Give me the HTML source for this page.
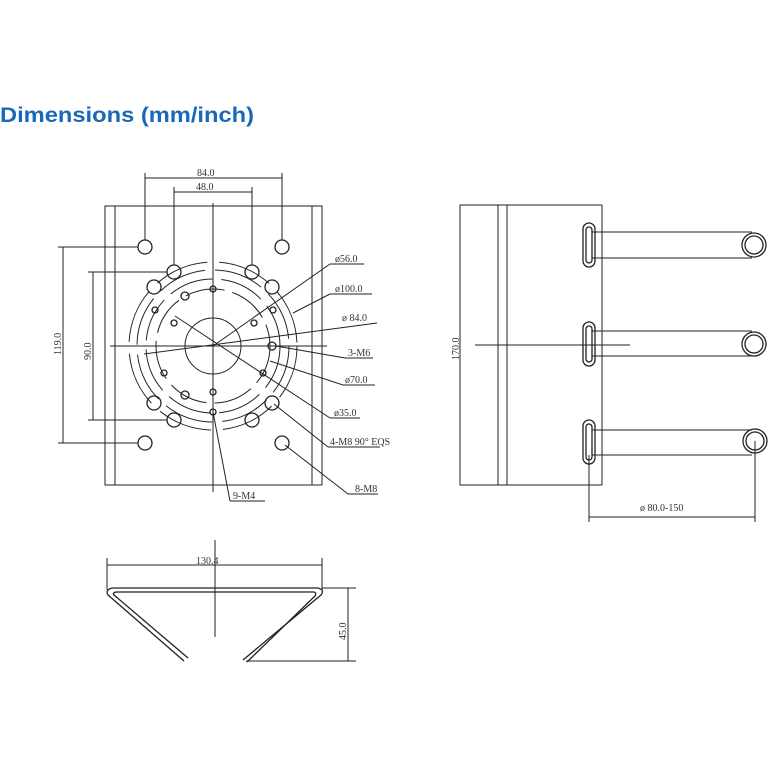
<!DOCTYPE html>
<html><head><style>html,body{margin:0;padding:0;background:#fff}svg{display:block}</style></head>
<body>
<svg width="768" height="768" viewBox="0 0 768 768" xmlns="http://www.w3.org/2000/svg">
<rect width="768" height="768" fill="#fff"/>
<text x="0" y="122" font-family="Liberation Sans, sans-serif" font-weight="bold" font-size="21" fill="#1a68b8" textLength="254" lengthAdjust="spacingAndGlyphs">Dimensions (mm/inch)</text>
<g stroke="#222" stroke-width="1" fill="none">
<!-- front plate -->
<rect x="105" y="206" width="217" height="279"/>
<line x1="115" y1="206" x2="115" y2="485"/><line x1="312" y1="206" x2="312" y2="485"/>
<line x1="213" y1="203" x2="213" y2="492"/><line x1="110" y1="346" x2="327" y2="346"/>
<circle cx="213" cy="346" r="28"/>
<circle cx="213" cy="346" r="57" stroke-dasharray="40 8"/>
<circle cx="213" cy="346" r="67" stroke-dasharray="45 9"/>
<circle cx="213" cy="346" r="76" stroke-dasharray="50 10"/>
<circle cx="213" cy="346" r="84" stroke-dasharray="55 12"/>
<g stroke-width="1.3">
<circle cx="145" cy="247" r="7"/><circle cx="282" cy="247" r="7"/>
<circle cx="174" cy="272" r="7"/><circle cx="252" cy="272" r="7"/>
<circle cx="154" cy="287" r="7"/><circle cx="272" cy="287" r="7"/>
<circle cx="154" cy="403" r="7"/><circle cx="272" cy="403" r="7"/>
<circle cx="174" cy="420" r="7"/><circle cx="252" cy="420" r="7"/>
<circle cx="145" cy="443" r="7"/><circle cx="282" cy="443" r="7"/>
<circle cx="213" cy="289" r="3"/><circle cx="185" cy="296" r="4"/><circle cx="155" cy="310" r="3"/>
<circle cx="174" cy="323" r="3"/><circle cx="254" cy="323" r="3"/><circle cx="273" cy="310" r="3"/>
<circle cx="272" cy="346" r="4"/><circle cx="164" cy="373" r="3"/><circle cx="263" cy="373" r="3"/>
<circle cx="185" cy="395" r="4"/><circle cx="213" cy="392" r="3"/><circle cx="213" cy="412" r="3"/>
</g>
<!-- dims -->
<line x1="145" y1="173" x2="145" y2="240"/><line x1="282" y1="173" x2="282" y2="240"/>
<line x1="145" y1="178" x2="282" y2="178"/>
<line x1="174" y1="187" x2="174" y2="265"/><line x1="252" y1="187" x2="252" y2="265"/>
<line x1="174" y1="192" x2="252" y2="192"/>
<line x1="63" y1="247" x2="63" y2="443"/><line x1="58" y1="247" x2="138" y2="247"/><line x1="58" y1="443" x2="138" y2="443"/>
<line x1="93" y1="272" x2="93" y2="420"/><line x1="88" y1="272" x2="167" y2="272"/><line x1="88" y1="420" x2="167" y2="420"/>
<!-- leaders -->
<line x1="213" y1="346" x2="330" y2="264"/><line x1="330" y1="264" x2="364" y2="264"/>
<line x1="293" y1="313" x2="330" y2="294"/><line x1="330" y1="294" x2="372" y2="294"/>
<line x1="144" y1="354" x2="377" y2="323"/>
<line x1="276" y1="346" x2="345" y2="358"/><line x1="345" y1="358" x2="373" y2="358"/>
<line x1="270" y1="361" x2="343" y2="385"/><line x1="343" y1="385" x2="375" y2="385"/>
<line x1="175" y1="316" x2="330" y2="418"/><line x1="330" y1="418" x2="360" y2="418"/>
<line x1="274" y1="404" x2="328" y2="447"/><line x1="328" y1="447" x2="380" y2="447"/>
<line x1="285" y1="445" x2="348" y2="494"/><line x1="348" y1="494" x2="378" y2="494"/>
<line x1="213" y1="412" x2="230" y2="501"/><line x1="230" y1="501" x2="265" y2="501"/>
<!-- side view -->
<rect x="460" y="205" width="142" height="280"/>
<line x1="498" y1="205" x2="498" y2="485"/><line x1="507" y1="205" x2="507" y2="485"/>
<line x1="475" y1="345" x2="630" y2="345"/>
<g stroke-width="1.3">
<rect x="583" y="223" width="12" height="44" rx="6"/><rect x="586" y="227" width="6" height="36" rx="3"/>
<rect x="583" y="322" width="12" height="44" rx="6"/><rect x="586" y="326" width="6" height="36" rx="3"/>
<rect x="583" y="420" width="12" height="44" rx="6"/><rect x="586" y="424" width="6" height="36" rx="3"/>
<circle cx="754" cy="245" r="12"/><circle cx="754" cy="245" r="9"/>
<circle cx="754" cy="344" r="12"/><circle cx="754" cy="344" r="9"/>
<circle cx="755" cy="441" r="12"/><circle cx="755" cy="441" r="9"/>
</g>
<line x1="592" y1="232" x2="752" y2="232"/><line x1="592" y1="258" x2="752" y2="258"/>
<line x1="592" y1="331" x2="752" y2="331"/><line x1="592" y1="356" x2="752" y2="356"/>
<line x1="592" y1="430" x2="752" y2="430"/><line x1="592" y1="455" x2="752" y2="455"/>
<line x1="589" y1="455" x2="589" y2="522"/><line x1="755" y1="441" x2="755" y2="522"/>
<line x1="589" y1="517" x2="755" y2="517"/>
<!-- bottom view -->
<line x1="107" y1="558" x2="107" y2="590"/><line x1="322" y1="558" x2="322" y2="590"/>
<line x1="107" y1="565" x2="322" y2="565"/>
<line x1="215" y1="540" x2="215" y2="637"/>
<line x1="322" y1="588" x2="356" y2="588"/><line x1="246" y1="661" x2="356" y2="661"/>
<line x1="348" y1="588" x2="348" y2="661"/>
<g stroke-width="1.3">
<path d="M184,661 L108,595 Q105,590 112,588 L318,588 Q325,590 321,595 L243,660"/>
<path d="M188,658 L114,595 Q112,593 116,592 L314,592 Q317,593 315,596 L247,662"/>
</g>
</g>
<g font-family="Liberation Serif, serif" font-size="10" fill="#333">
<text x="197" y="176">84.0</text>
<text x="196" y="190">48.0</text>
<text x="335" y="262">ø56.0</text>
<text x="335" y="292">ø100.0</text>
<text x="342" y="321">ø 84.0</text>
<text x="348" y="356">3-M6</text>
<text x="345" y="383">ø70.0</text>
<text x="334" y="416">ø35.0</text>
<text x="330" y="445">4-M8 90° EQS</text>
<text x="355" y="492">8-M8</text>
<text x="233" y="499">9-M4</text>
<text x="196" y="564">130.4</text>
<text x="640" y="511">ø 80.0-150</text>
<text transform="translate(61,355) rotate(-90)">119.0</text>
<text transform="translate(91,360) rotate(-90)">90.0</text>
<text transform="translate(459,360) rotate(-90)">170.0</text>
<text transform="translate(346,640) rotate(-90)">45.0</text>
</g>
</svg>
</body></html>
